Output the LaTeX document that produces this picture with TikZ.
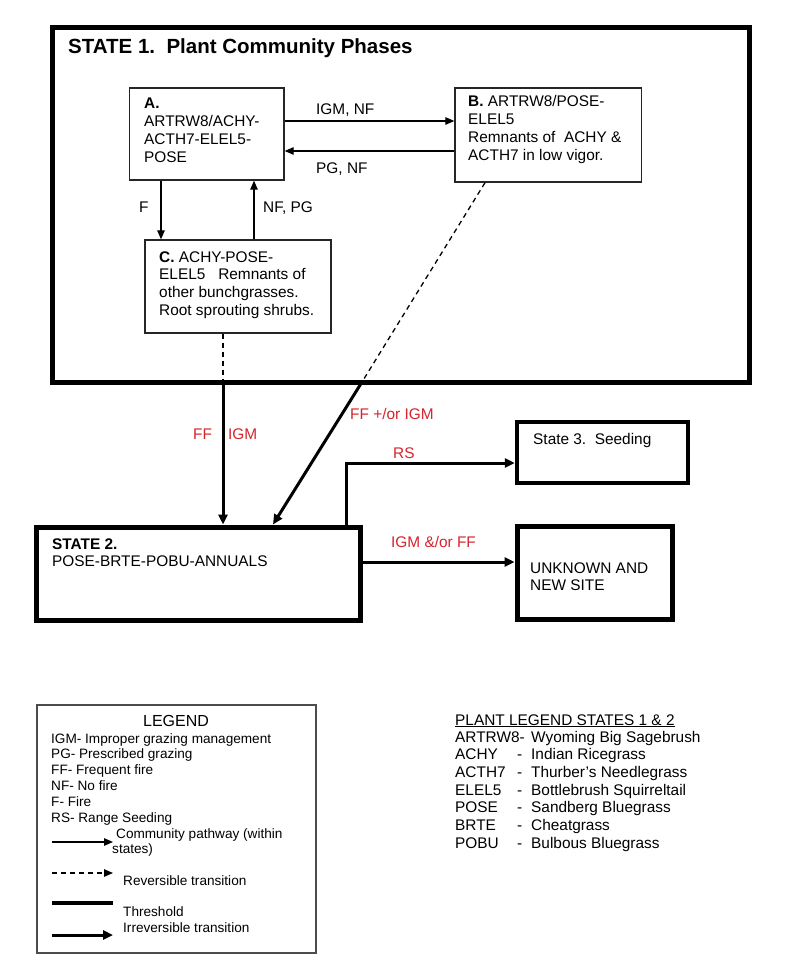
\documentclass[tikz,border=0pt]{standalone}
\usepackage{fontspec}
\setmainfont{Liberation Sans}
\usetikzlibrary{arrows.meta}
\definecolor{lblred}{RGB}{212,36,44}
\newcommand\fsmain{\fontsize{15.4}{17.8}\selectfont}
\newcommand\fsleg{\fontsize{13.6}{15.8}\selectfont}
\newcommand\fstitle{\fontsize{20.5}{24}\selectfont\bfseries}
\newcommand\mlines[1]{\begin{tabular}[t]{@{}l@{}}#1\end{tabular}}
\begin{document}
\begin{tikzpicture}[x=1pt,y=-1pt,
  phasebox/.style={draw=black!85, line width=1.4pt, rectangle, inner sep=0pt, anchor=center},
  statebox/.style={draw=black, line width=5pt, rectangle, inner sep=0pt, anchor=center},
  txt/.style={anchor=base west, inner sep=0pt, font=\fsmain},
  legtxt/.style={anchor=base west, inner sep=0pt, font=\fsleg},
  lbl/.style={anchor=base west, inner sep=0pt, font=\fsmain, text=lblred},
  cpath/.style={line width=1.3pt, -{Triangle[length=9pt,width=7.5pt]}},
  irrev/.style={line width=3pt, -{Triangle[length=10pt,width=9pt]}},
  revtr/.style={line width=1.3pt, dash pattern=on 5pt off 4pt}
]
\useasboundingbox (0,0) rectangle (800,965);
\fill[white] (0,0) rectangle (800,965);

% State 1
\node[statebox, minimum width=696.5pt, minimum height=354.5pt] (S1) at (400.75,204.75) {};
\node[anchor=base west, inner sep=0pt, font=\fstitle] (title) at (68,54) {STATE 1.\ \ Plant Community Phases};

% phases
\node[phasebox, minimum width=154.5pt, minimum height=92pt] (A) at (206.75,134) {};
\node[phasebox, minimum width=186.5pt, minimum height=94pt] (B) at (548.25,135) {};
\node[phasebox, minimum width=186pt, minimum height=93pt] (C) at (238,286.5) {};
\node[txt] (At) at (144,109) {\mlines{\textbf{A.}\\ARTRW8/ACHY-\\ACTH7-ELEL5-\\POSE}};
\node[txt] (Bt) at (468,107) {\mlines{\textbf{B.} ARTRW8/POSE-\\ELEL5\\Remnants of\ \ ACHY \&\\ACTH7 in low vigor.}};
\node[txt] (Ct) at (159,262) {\mlines{\textbf{C.} ACHY-POSE-\\ELEL5\ \ \ Remnants of\\other bunchgrasses.\\Root sprouting shrubs.}};

\draw[cpath] (A.east |- 0,121) -- (B.west |- 0,121);
\draw[cpath] (B.west |- 0,151) -- (A.east |- 0,151);
\draw[cpath] (A.south -| 161,0) -- (C.north -| 161,0);
\draw[cpath] (C.north -| 254,0) -- (A.south -| 254,0);
\node[txt] (l1) at (316,115) {IGM, NF};
\node[txt] (l2) at (316,174) {PG, NF};
\node[txt] (l3) at (139,213) {F};
\node[txt] (l4) at (263,213) {NF, PG};

% State 2, 3, unknown
\node[statebox, minimum width=324pt, minimum height=93pt] (S2) at (198,573.5) {};
\node[statebox, line width=4.5pt, minimum width=171pt, minimum height=61pt] (S3) at (602.5,452.5) {};
\node[statebox, minimum width=155pt, minimum height=93pt] (U) at (594.5,572.5) {};
\node[txt, font=\fontsize{15.4}{17}\selectfont] (S2t) at (52,549) {\mlines{\textbf{STATE 2.}\\POSE-BRTE-POBU-ANNUALS}};
\node[txt] (S3t) at (533,444) {State 3.\ \ Seeding};
\node[txt] (Ut) at (530,573) {\mlines{UNKNOWN AND\\NEW SITE}};

% transitions
\coordinate (cx) at (C.south -| 223,0);
\coordinate (cx1) at (S1.south -| 223,0);
\draw[revtr] (cx) -- (cx1);
\draw[irrev] (cx1) -- (S2.north -| 223,0);
\coordinate (bx) at (B.south -| 485,0);
\coordinate (bx1) at (362,382);
\draw[revtr] (bx) -- (bx1);
\draw[irrev] (bx1) -- (S2.north -| 273,0);
\draw[irrev] (S2.north -| 346,0) |- (S3.west |- 0,463);
\draw[irrev] (S2.east |- 0,562) -- (U.west |- 0,562);
\node[lbl] (r1) at (193,439) {FF};
\node[lbl] (r2) at (228,439) {IGM};
\node[lbl] (r3) at (350,419) {FF +/or IGM};
\node[lbl] (r4) at (393,458) {RS};
\node[lbl] (r5) at (391,547) {IGM \&/or FF};

% Legend
\node[draw=black!70, line width=1.5pt, rectangle, inner sep=0pt, minimum width=279pt, minimum height=248pt] (L) at (176.5,829) {};
\node[anchor=base, inner sep=0pt, font=\fontsize{16}{18}\selectfont] (Lt) at (176,726) {LEGEND};
\node[legtxt] (Ll) at (51,743) {\mlines{IGM- Improper grazing management\\PG- Prescribed grazing\\FF- Frequent fire\\NF- No fire\\F- Fire\\RS- Range Seeding}};
\coordinate (k1a) at (52,842); \coordinate (k1b) at (113,842);
\draw[cpath] (k1a) -- (k1b);
\node[legtxt] (k1t) at (116,838) {Community pathway (within};
\node[legtxt] (k1u) at (112,853) {states)};
\coordinate (k2a) at (52,873); \coordinate (k2b) at (113,873);
\draw[revtr, -{Triangle[length=9pt,width=7.5pt]}] (k2a) -- (k2b);
\node[legtxt] (k2t) at (123,885) {Reversible transition};
\coordinate (k3a) at (52,903); \coordinate (k3b) at (113,903);
\draw[line width=4pt] (k3a) -- (k3b);
\node[legtxt] (k3t) at (123,916) {Threshold};
\coordinate (k4a) at (52,935); \coordinate (k4b) at (113,935);
\draw[irrev] (k4a) -- (k4b);
\node[legtxt] (k4t) at (123,932) {Irreversible transition};

% Plant legend
\node[txt] (P0) at (455,725) {\underline{PLANT LEGEND STATES 1 \& 2}};
\node[txt, font=\fontsize{15.4}{17.7}\selectfont] (P1) at (455,742) {\mlines{ARTRW8-\\ACHY\\ACTH7\\ELEL5\\POSE\\BRTE\\POBU}};
\node[txt, font=\fontsize{15.4}{17.7}\selectfont] (P2) at (517,759.7) {\mlines{-\\-\\-\\-\\-\\-}};
\node[txt, font=\fontsize{15.4}{17.7}\selectfont] (P3) at (531,742) {\mlines{Wyoming Big Sagebrush\\Indian Ricegrass\\Thurber’s Needlegrass\\Bottlebrush Squirreltail\\Sandberg Bluegrass\\Cheatgrass\\Bulbous Bluegrass}};
\end{tikzpicture}
\end{document}
